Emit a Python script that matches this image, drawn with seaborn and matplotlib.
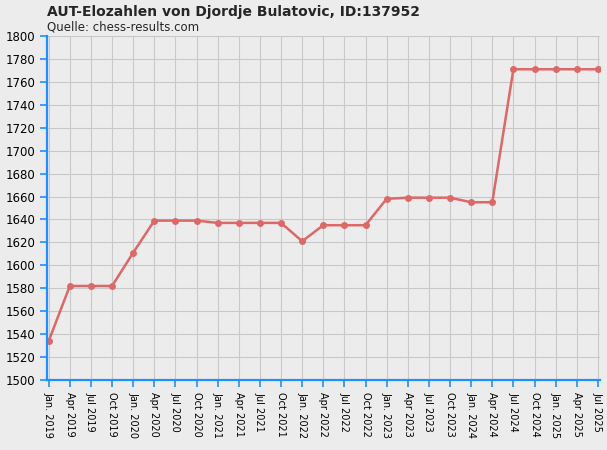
import matplotlib
matplotlib.use("Agg")
import matplotlib.pyplot as plt
import pandas as pd
import seaborn as sns

months = ["Jan", "Apr", "Jul", "Oct"]
labels = [f"{m}. {y}" if m == "Jan" else f"{m} {y}" for y in range(2019, 2026) for m in months][:27]
elo = [1534, 1582, 1582, 1582, 1611, 1639, 1639, 1639, 1637, 1637, 1637, 1637,
       1621, 1635, 1635, 1635, 1658, 1659, 1659, 1659, 1655, 1655,
       1771, 1771, 1771, 1771, 1771]

df = pd.DataFrame({"idx": range(len(elo)), "elo": elo})

sns.set_style("whitegrid")
bg = "#ECECEC"
fig = plt.figure(figsize=(6.07, 4.5), dpi=100, facecolor=bg)
ax = fig.add_axes([47 / 607, 70 / 450, 553 / 607, 344 / 450])
ax.set_facecolor(bg)

sns.lineplot(data=df, x="idx", y="elo", ax=ax, color="#DC6868", linewidth=1.8,
             marker="o", markersize=5, markeredgewidth=0)

ax.set_xlim(-0.08, len(elo) - 0.9)
ax.set_ylim(1500, 1800)
ax.set_yticks(range(1500, 1801, 20))
ax.set_xticks(range(len(elo)))
ax.set_xticklabels(labels, rotation=-90, fontsize=7)
ax.tick_params(axis="y", labelsize=8.5)
ax.tick_params(axis="both", bottom=True, left=True, colors="#1E90FF", length=5,
               width=1.2, direction="out", labelcolor="black")
ax.set_xlabel("")
ax.set_ylabel("")
ax.grid(True, color="#C8C8C8", linewidth=0.8)
for s in ["top", "right"]:
    ax.spines[s].set_visible(False)
for s in ["left", "bottom"]:
    ax.spines[s].set_color("#1E90FF")
    ax.spines[s].set_linewidth(1.6)

fig.text(47 / 607, 1 - 12 / 450, "AUT-Elozahlen von Djordje Bulatovic, ID:137952",
         fontsize=10, fontweight="bold", va="center")
fig.text(47 / 607, 1 - 27 / 450, "Quelle: chess-results.com", fontsize=8.5, va="center")

fig.savefig("out.png", dpi=100, facecolor=bg)
